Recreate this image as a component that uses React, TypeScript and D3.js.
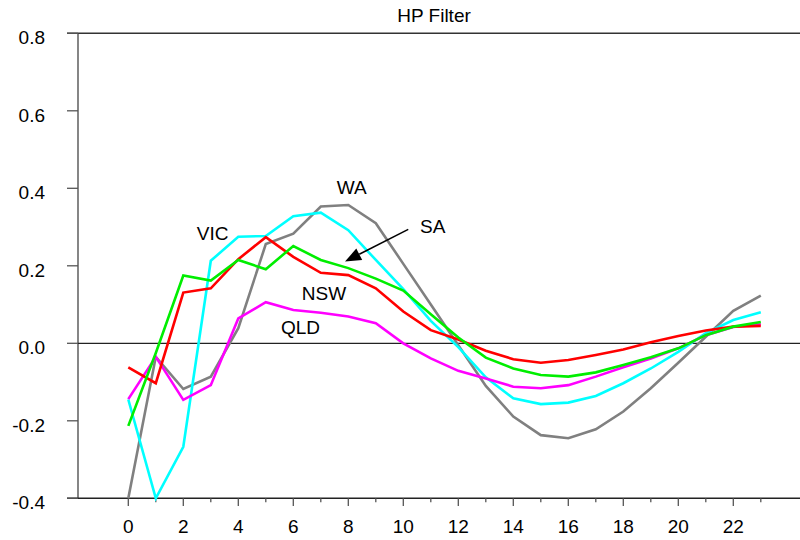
import React from "react";
import * as d3 from "d3";

const periods = d3.range(0, 24);
const xTickLabels = [0, 2, 4, 6, 8, 10, 12, 14, 16, 18, 20, 22];
const yTickValues = [-0.4, -0.2, 0.0, 0.2, 0.4, 0.6, 0.8];

const NSW = [-0.062, -0.103, 0.131, 0.142, 0.217, 0.274, 0.223, 0.182, 0.176, 0.142, 0.082, 0.034, 0.010, -0.019, -0.041, -0.05, -0.043, -0.030, -0.016, 0.003, 0.019, 0.033, 0.043, 0.045];
const VIC = [-0.145, -0.4, -0.267, 0.213, 0.275, 0.277, 0.328, 0.337, 0.292, 0.215, 0.14, 0.058, -0.01, -0.088, -0.142, -0.157, -0.153, -0.136, -0.103, -0.065, -0.022, 0.026, 0.06, 0.08];
const SA = [-0.213, -0.025, 0.175, 0.162, 0.215, 0.191, 0.251, 0.215, 0.194, 0.167, 0.136, 0.075, 0.015, -0.037, -0.065, -0.082, -0.086, -0.075, -0.056, -0.036, -0.013, 0.021, 0.043, 0.055];
const QLD = [-0.144, -0.035, -0.146, -0.108, 0.064, 0.106, 0.086, 0.079, 0.069, 0.052, 0.0, -0.039, -0.071, -0.091, -0.112, -0.116, -0.108, -0.086, -0.062, -0.039, -0.013, 0.021, 0.042, 0.049];
const WA = [-0.4, -0.035, -0.118, -0.086, 0.039, 0.256, 0.283, 0.353, 0.357, 0.31, 0.205, 0.10, -0.005, -0.11, -0.189, -0.237, -0.245, -0.222, -0.176, -0.116, -0.05, 0.017, 0.084, 0.123];

const series = [
  { name: "WA", values: WA, color: "#808080" },
  { name: "VIC", values: VIC, color: "#00ffff" },
  { name: "QLD", values: QLD, color: "#ff00ff" },
  { name: "NSW", values: NSW, color: "#ff0000" },
  { name: "SA", values: SA, color: "#00ee00" },
];

// annotation anchors in data units
const annotations = [
  { text: "WA", x: 7.58, y: 0.385 },
  { text: "SA", x: 10.61, y: 0.285 },
  { text: "NSW", x: 6.31, y: 0.112 },
  { text: "QLD", x: 5.55, y: 0.023 },
  { text: "VIC", x: 2.49, y: 0.267 },
];
const arrowFrom = { x: 10.18, y: 0.294 };
const arrowTo = { x: 7.88, y: 0.211 };

export default function App() {
  const W = 800, H = 540;
  const x = d3.scaleLinear().domain([0, 22]).range([128.3, 733.3]);
  const y = d3.scaleLinear().domain([-0.4, 0.8]).range([498.3, 33.3]);
  const left = 78, right = 800;
  const font = "'Liberation Sans', Arial, Helvetica, sans-serif";
  const line = d3.line<number>().x((_, i) => x(periods[i])).y((d) => y(d));

  const ax1 = x(arrowFrom.x), ay1 = y(arrowFrom.y), ax2 = x(arrowTo.x), ay2 = y(arrowTo.y);
  const ang = Math.atan2(ay2 - ay1, ax2 - ax1);
  const hl = 16, hw = 6.5;
  const bx = ax2 - hl * Math.cos(ang), by = ay2 - hl * Math.sin(ang);
  const p1 = [bx + hw * Math.sin(ang), by - hw * Math.cos(ang)];
  const p2 = [bx - hw * Math.sin(ang), by + hw * Math.cos(ang)];

  return (
    <svg width={W} height={H} style={{ position: "absolute", left: 0, top: 0, background: "#fff" }} fontFamily={font}>
      <rect x={0} y={0} width={W} height={H} fill="#fff" />
      <text x={434} y={22} fontSize={19} textAnchor="middle" fill="#000">HP Filter</text>
      {/* top border */}
      <line x1={67} x2={right} y1={y(0.8)} y2={y(0.8)} stroke="#333" strokeWidth={1.5} />
      {/* left axis */}
      <line x1={left} x2={left} y1={y(0.8)} y2={y(-0.4)} stroke="#444" strokeWidth={1.3} />
      {/* bottom axis */}
      <line x1={67} x2={right} y1={y(-0.4)} y2={y(-0.4)} stroke="#222" strokeWidth={1.5} />
      {/* zero line */}
      <line x1={left} x2={right} y1={y(0)} y2={y(0)} stroke="#222" strokeWidth={1.2} />
      {yTickValues.map((v) => (
        <g key={v}>
          <line x1={67} x2={left} y1={y(v)} y2={y(v)} stroke="#555" strokeWidth={1.3} />
          <text x={45} y={y(v) + 11} fontSize={19} textAnchor="end" fill="#000">{v.toFixed(1)}</text>
        </g>
      ))}
      {periods.map((p) => (
        <line key={p} x1={x(p)} x2={x(p)} y1={y(-0.4)} y2={y(-0.4) + (p % 2 === 0 ? 7.7 : 4)} stroke="#555" strokeWidth={1.3} />
      ))}
      {xTickLabels.map((p) => (
        <text key={p} x={x(p)} y={533} fontSize={19} textAnchor="middle" fill="#000">{p}</text>
      ))}
      {series.map((s) => (
        <path key={s.name} d={line(s.values) || ""} fill="none" stroke={s.color} strokeWidth={2.6} strokeLinejoin="miter" />
      ))}
      {annotations.map((a) => (
        <text key={a.text} x={x(a.x)} y={y(a.y)} fontSize={19} fill="#000">{a.text}</text>
      ))}
      <line x1={ax1} y1={ay1} x2={bx} y2={by} stroke="#000" strokeWidth={1.5} />
      <polygon points={`${ax2},${ay2} ${p1[0]},${p1[1]} ${p2[0]},${p2[1]}`} fill="#000" />
    </svg>
  );
}
